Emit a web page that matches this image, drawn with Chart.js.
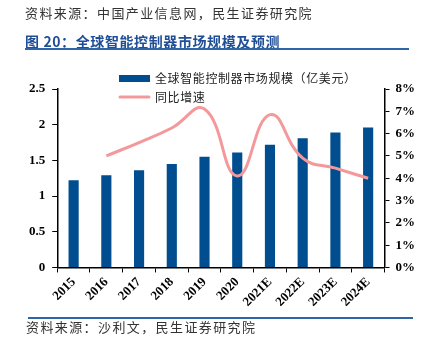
<!DOCTYPE html>
<html>
<head>
<meta charset="utf-8">
<script src="https://cdn.jsdelivr.net/npm/chart.js@4/dist/chart.umd.min.js"></script>
<style>
  body { margin: 0; background: #fff; }
  #wrap { position: relative; width: 426px; height: 342px; overflow: hidden; }
  #chart { position: absolute; left: 0; top: 0; }
  .txt { position: absolute; white-space: nowrap; font-family: "Noto Sans CJK SC", sans-serif; }
  #src1 { left: 25px; top: 3px; font-size: 13px; color: #333; letter-spacing: 1.4px; }
  #title { left: 25px; top: 31px; font-size: 14px; font-weight: bold; color: #1f4e96; letter-spacing: 0.6px; }
  .rule { position: absolute; height: 2px; background: #2e64a8; }
  #src2 { left: 26px; top: 317px; font-size: 13px; color: #333; letter-spacing: 1.4px; }
</style>
</head>
<body>
<div id="wrap">
  <canvas id="chart" width="426" height="342"></canvas>
  <div class="txt" id="src1">资料来源：中国产业信息网，民生证券研究院</div>
  <div class="txt" id="title">图 20：全球智能控制器市场规模及预测</div>
  <div class="rule" style="left:25px; top:48px; width:384px;"></div>
  <div class="rule" style="left:28px; top:317px; width:385px;"></div>
  <div class="txt" id="src2">资料来源：沙利文，民生证券研究院</div>
</div>
<script>
// data
const years = ["2015", "2016", "2017", "2018", "2019", "2020", "2021E", "2022E", "2023E", "2024E"];
const marketSize = [1.22, 1.29, 1.36, 1.45, 1.55, 1.61, 1.72, 1.81, 1.89, 1.96];   // 亿美元
const growthRate = [null, 5.0, 5.6, 6.25, 7.1, 4.1, 6.85, 4.9, 4.45, 4.0];          // %
const leftTickLabels = ["0", "0.5", "1", "1.5", "2", "2.5"];
const rightTickLabels = ["0%", "1%", "2%", "3%", "4%", "5%", "6%", "7%", "8%"];

const barColor = "#004e8f";
const lineColor = "#f4999b";
const tickFont = { family: "Liberation Serif", size: 13, weight: "bold" };

// legend drawn by hand so it stacks in two rows (bar first, line second)
const legendPlugin = {
  id: "stackedLegend",
  afterDraw(chart) {
    const ctx = chart.ctx;
    const barDs = chart.data.datasets.find(d => d.type !== "line");
    const lineDs = chart.data.datasets.find(d => d.type === "line");
    ctx.save();
    ctx.font = '12px "Noto Sans CJK SC"';
    ctx.letterSpacing = "0.6px";
    ctx.textBaseline = "middle";

    ctx.fillStyle = barDs.backgroundColor;
    ctx.fillRect(119, 75, 31, 7);
    ctx.fillStyle = "#222";
    ctx.fillText(barDs.label, 155, 78);

    ctx.strokeStyle = lineDs.borderColor;
    ctx.lineWidth = 3;
    ctx.lineCap = "round";
    ctx.beginPath();
    ctx.moveTo(120, 97);
    ctx.lineTo(149, 97);
    ctx.stroke();
    ctx.fillText(lineDs.label, 155, 97);
    ctx.restore();
  }
};

new Chart(document.getElementById("chart").getContext("2d"), {
  type: "bar",
  data: {
    labels: years,
    datasets: [
      {
        type: "line",
        label: "同比增速",
        data: growthRate,
        yAxisID: "y1",
        borderColor: lineColor,
        borderWidth: 3,
        pointRadius: 0,
        tension: 0.45,
        order: 0
      },
      {
        type: "bar",
        label: "全球智能控制器市场规模（亿美元）",
        data: marketSize,
        yAxisID: "y",
        backgroundColor: barColor,
        barPercentage: 0.31,
        categoryPercentage: 1,
        order: 1
      }
    ]
  },
  options: {
    responsive: false,
    animation: false,
    layout: { padding: { top: 89, left: 22, right: 5, bottom: 30 } },
    plugins: { legend: { display: false }, tooltip: { enabled: false } },
    scales: {
      x: {
        grid: { offset: true, drawOnChartArea: false, color: "#000", tickLength: 5, lineWidth: 1 },
        border: { color: "#000", width: 1.5 },
        ticks: { color: "#000", font: tickFont, minRotation: 45, maxRotation: 45, padding: 2, autoSkip: false }
      },
      y: {
        position: "left",
        min: 0,
        max: 2.5,
        grid: { drawOnChartArea: false, color: "#000", tickLength: 5 },
        border: { color: "#000", width: 1.5 },
        ticks: { stepSize: 0.5, color: "#000", font: tickFont, padding: 7, callback: (v, i) => leftTickLabels[i] }
      },
      y1: {
        position: "right",
        min: 0,
        max: 8,
        grid: { drawOnChartArea: false, color: "#000", tickLength: 5 },
        border: { color: "#000", width: 1.5 },
        ticks: { stepSize: 1, color: "#000", font: tickFont, padding: 6, callback: (v, i) => rightTickLabels[i] }
      }
    }
  },
  plugins: [legendPlugin]
});
</script>
</body>
</html>
